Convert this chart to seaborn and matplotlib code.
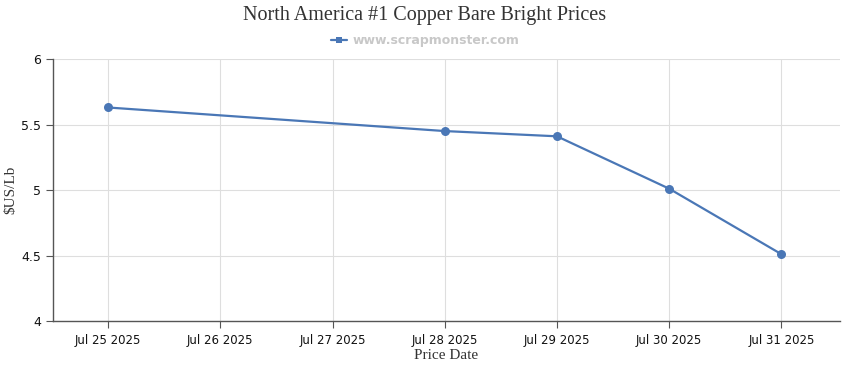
import pandas as pd
import numpy as np
import matplotlib
matplotlib.use('Agg')
import matplotlib.pyplot as plt
import matplotlib.dates as mdates
import seaborn as sns

# values
dates = ['2025-07-25', '2025-07-28', '2025-07-29', '2025-07-30', '2025-07-31']
prices = [5.63, 5.45, 5.41, 5.01, 4.51]
tick_dates = ['2025-07-25', '2025-07-26', '2025-07-27', '2025-07-28',
              '2025-07-29', '2025-07-30', '2025-07-31']
tick_labels = ['Jul 25 2025', 'Jul 26 2025', 'Jul 27 2025', 'Jul 28 2025',
               'Jul 29 2025', 'Jul 30 2025', 'Jul 31 2025']
y_ticks = [4, 4.5, 5, 5.5, 6]
y_labels = ['4', '4.5', '5', '5.5', '6']


def main():
    sns.set_style('white')
    plt.rcParams['font.family'] = ['DejaVu Sans']

    df = pd.DataFrame({'date': pd.to_datetime(dates), 'price': prices})
    color = '#4a77b6'

    fig = plt.figure(figsize=(8.5, 3.7), dpi=100)
    ax = fig.add_axes([0.0624, 0.1324, 0.9256, 0.7081])

    sns.lineplot(data=df, x='date', y='price', ax=ax, color=color,
                 linewidth=1.6, marker='o', markersize=6.5,
                 markeredgewidth=0, label='www.scrapmonster.com')

    ticks = pd.to_datetime(tick_dates)
    ax.set_xlim(mdates.date2num(ticks[0]) - 0.49, mdates.date2num(ticks[-1]) + 0.52)
    ax.set_xticks(ticks)
    ax.set_xticklabels(tick_labels, fontsize=8.5, color='#111111')
    ax.set_ylim(4, 6)
    ax.set_yticks(y_ticks)
    ax.set_yticklabels(y_labels, fontsize=9, color='#111111')

    ax.grid(True, color='#dedede', linewidth=0.8)
    for side in ['top', 'right']:
        ax.spines[side].set_visible(False)
    for side in ['left', 'bottom']:
        ax.spines[side].set_color('#555555')
        ax.spines[side].set_linewidth(1)
    ax.tick_params(axis='both', length=5, width=0.8, color='#555555', bottom=True, left=True)
    ax.tick_params(axis='x', pad=4)

    ax.set_xlabel('Price Date', family='Liberation Serif', fontsize=11, color='#333333', labelpad=2)
    ax.set_ylabel('$US/Lb', family='Liberation Serif', fontsize=11, color='#333333',
                  va='center')
    ax.yaxis.set_label_coords(-0.054, 0.5)

    fig.text(0.5, 0.958, 'North America #1 Copper Bare Bright Prices', ha='center', va='center',
             family='Liberation Serif', fontsize=14.5, color='#333333')

    leg = ax.legend(loc='center', bbox_to_anchor=(0.5, 0.89), bbox_transform=fig.transFigure,
                    frameon=False, handlelength=1.3, handletextpad=0.4,
                    prop={'weight': 'bold', 'size': 9})
    for t in leg.get_texts():
        t.set_color('#c8c8c8')
    for h in leg.get_lines():
        h.set_marker('s')
        h.set_markersize(5)

    fig.savefig('out.png', dpi=100)


if __name__ == '__main__':
    main()
